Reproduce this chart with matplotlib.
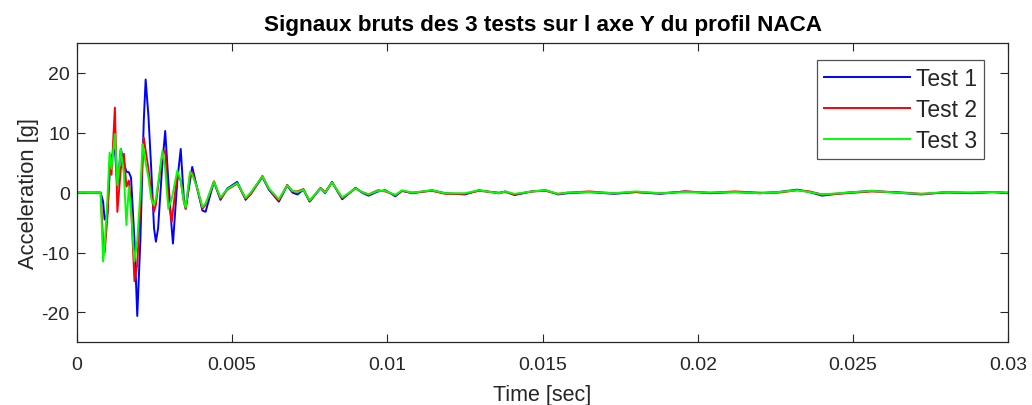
import matplotlib
matplotlib.use("Agg")
import matplotlib.pyplot as plt

# Sample times, in milliseconds
TIME_MS = [
    0.0, 0.77, 0.85, 0.90, 0.99, 1.06, 1.12, 1.23, 1.31, 1.42,
    1.52, 1.60, 1.68, 1.75, 1.86, 1.95, 2.05, 2.12, 2.16, 2.22,
    2.31, 2.40, 2.49, 2.55, 2.62, 2.76, 2.85, 2.95, 3.06, 3.10,
    3.24, 3.35, 3.45, 3.51, 3.65, 3.72, 3.88, 4.05, 4.15, 4.42,
    4.63, 4.85, 5.17, 5.44, 5.60, 5.98, 6.19, 6.51, 6.78, 6.95,
    7.11, 7.30, 7.50, 7.85, 8.00, 8.22, 8.55, 8.98, 9.19, 9.40,
    9.70, 9.94, 10.26, 10.48, 10.80, 11.44, 11.87, 12.50, 12.95, 13.60,
    13.80, 14.10, 14.65, 15.10, 15.50, 15.80, 16.5, 17.3, 18.0, 18.8,
    19.6, 20.4, 21.2, 22.0, 22.6, 23.2, 23.6, 24.0, 24.8, 25.6,
    26.4, 27.2, 28.0, 28.8, 29.5, 30.0,
]

TEST_1 = [
    0, 0, -1.5, -4.5, -3.5, 3, 6, 7.3, 1, 7.3,
    5, 3.5, 3.4, 2.5, -8, -20.6, -8, 5, 12, 18.9,
    12.8, 4, -5.9, -8.2, -6, 5, 10.3, 2, -6, -8.5,
    2, 7.3, -1, -2.7, 2, 4.3, 0.7, -3, -3.2, 1.8,
    -1.2, 0.7, 1.8, -1.2, -0.2, 2.6, 0.5, -1.5, 1.2, 0,
    -0.3, 0.5, -1.5, 0.7, -0.1, 1.8, -1.1, 0.8, 0, -0.5,
    0.2, 0.4, -0.6, 0.3, -0.1, 0.4, -0.1, -0.3, 0.4, -0.1,
    0.2, -0.4, 0.2, 0.4, -0.3, -0.1, 0.1, -0.2, 0.1, -0.2,
    0.2, -0.1, 0.1, -0.1, 0.1, 0.5, 0.1, -0.5, 0, 0.3,
    0, -0.3, 0.1, -0.1, 0.1, -0.1,
]

TEST_2 = [
    0, 0, -8, -10, -4, 5, 3, 14.2, -3.2, 4,
    6.5, 1, 2, -2, -14.8, -12, -2, 6, 9.2, 7,
    4, 0, -3.2, -2, 1, 6.5, 7, -1, -4.9, -3,
    2.9, 2, -1.5, -2.7, 3, 3.5, 0.7, -2.7, -2, 1.9,
    -1, 0.5, 1.5, -1, -0.3, 2.8, 0.6, -1.3, 1.3, 0.2,
    0.2, 0.6, -1.4, 0.8, 0.1, 1.7, -0.9, 0.7, 0.1, -0.3,
    0.4, 0.2, -0.4, 0.3, 0, 0.3, -0.2, -0.2, 0.3, 0,
    0.1, -0.3, 0.2, 0.3, -0.2, 0, 0.2, -0.1, 0.1, -0.1,
    0.2, 0, 0.2, 0, 0, 0.4, 0.2, -0.3, -0.1, 0.2,
    0.1, -0.2, 0, 0, 0.1, 0,
]

TEST_3 = [
    0, 0, -11.5, -9, -1, 6.7, 4, 9.8, 1.2, 7.3,
    3, -5.4, 1, -3, -11.5, -8, 0, 8.1, 7, 5,
    2.5, -1, -2.1, -1, 1.5, 7, 4, -2.7, -1, 0,
    3.7, 2, -1.5, -2.5, 3.5, 3, 0.8, -2.4, -1.8, 1.8,
    -0.8, 0.6, 1.6, -0.9, 0, 2.7, 0.7, -1.1, 1.2, 0.3,
    0.1, 0.5, -1.3, 0.7, 0, 1.7, -0.8, 0.7, 0.1, -0.3,
    0.3, 0.3, -0.4, 0.4, 0, 0.4, -0.1, -0.1, 0.4, -0.1,
    0.2, -0.2, 0.2, 0.4, -0.2, 0, 0.1, -0.1, 0.2, -0.1,
    0.1, 0, 0.1, -0.1, 0.1, 0.4, 0.1, -0.3, 0, 0.3,
    0, -0.2, 0.1, 0, 0.1, 0,
]

LABELS = ["Test 1", "Test 2", "Test 3"]
COLORS = ["#0000ff", "#ff0000", "#00ff00"]

X_TICKS = [0, 0.005, 0.01, 0.015, 0.02, 0.025, 0.03]
X_TICK_LABELS = ["0", "0.005", "0.01", "0.015", "0.02", "0.025", "0.03"]
Y_TICKS = [-20, -10, 0, 10, 20]

DARK = "#262626"

plt.rcParams["font.family"] = ["Liberation Sans", "DejaVu Sans"]
plt.rcParams["axes.unicode_minus"] = False

fig = plt.figure(figsize=(10.32, 4.06), dpi=100)
ax = fig.add_axes([76.7 / 1032, 1 - 343.3 / 406, (1008.3 - 76.7) / 1032, (343.3 - 44) / 406])

time_sec = [t / 1000 for t in TIME_MS]
for values, label, color in zip([TEST_1, TEST_2, TEST_3], LABELS, COLORS):
    ax.plot(time_sec, values, color=color, linewidth=1.4, label=label)

ax.set_xlim(0, 0.03)
ax.set_ylim(-25, 25)
ax.set_xticks(X_TICKS)
ax.set_xticklabels(X_TICK_LABELS)
ax.set_yticks(Y_TICKS)

# MATLAB look: ticks inside on all four sides, dark grey box
ax.tick_params(direction="in", length=6, width=0.8, colors=DARK,
               labelsize=14, top=True, right=True)
ax.tick_params(axis="x", pad=10)
ax.tick_params(axis="y", pad=5)
for spine in ax.spines.values():
    spine.set_color(DARK)
    spine.set_linewidth(0.9)

ax.set_title("Signaux bruts des 3 tests sur l axe Y du profil NACA",
             fontsize=16.2, fontweight="bold", color="black", pad=9)
ax.set_xlabel("Time [sec]", fontsize=15.5, color=DARK, labelpad=8)
ax.set_ylabel("Acceleration [g]", fontsize=15.8, color=DARK, labelpad=2)

leg = ax.legend(loc="upper right", bbox_to_anchor=(0.974, 0.943),
                fontsize=16.5, frameon=True, fancybox=False,
                edgecolor=DARK, handlelength=3.75, handletextpad=0.28,
                borderpad=0.3, labelspacing=0.35, borderaxespad=0)
leg.get_frame().set_linewidth(0.9)
for text in leg.get_texts():
    text.set_color(DARK)

fig.savefig("out.png", dpi=100, facecolor="white")
